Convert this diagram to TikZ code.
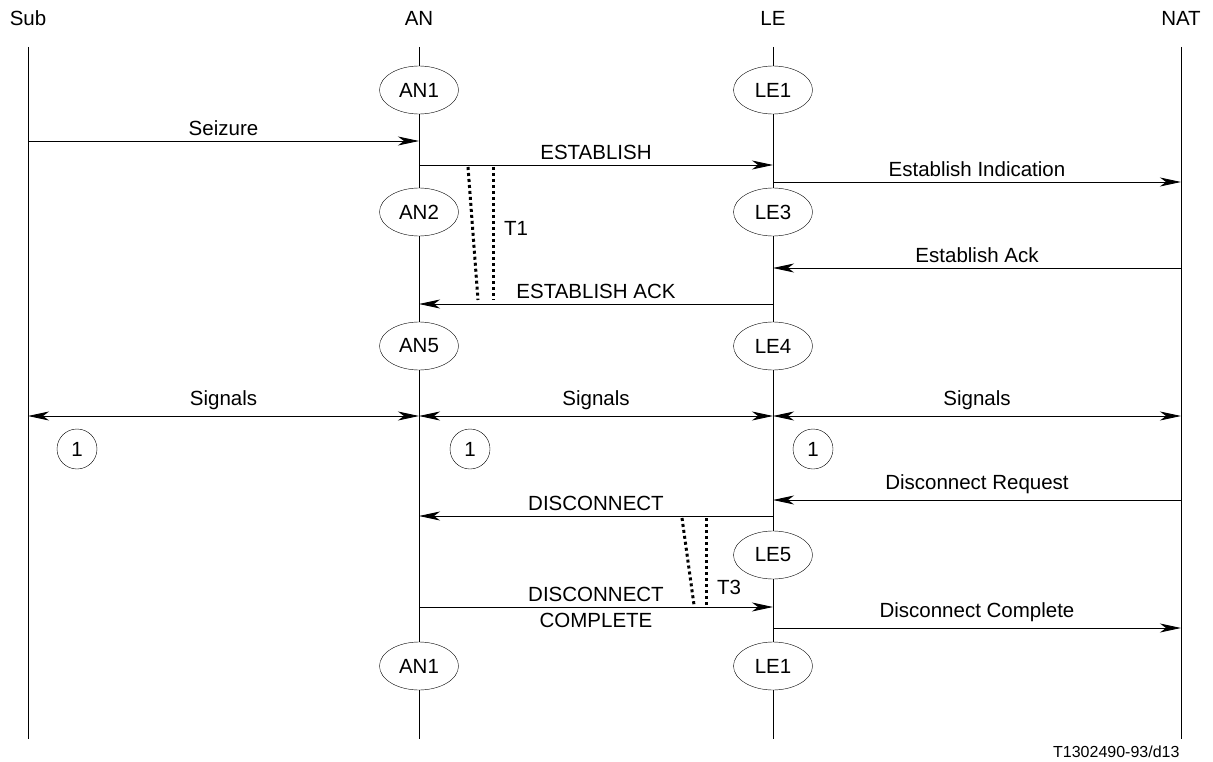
\documentclass[tikz,border=0pt]{standalone}
\usepackage{fontspec}
\setmainfont{Liberation Sans}
\usetikzlibrary{arrows.meta,shapes.geometric}
\begin{document}
\begin{tikzpicture}[x=1pt, y=-1pt,
    every node/.style={font=\fontsize{20.5}{26}\selectfont},
    state/.style={ellipse, draw, fill=white, minimum width=79pt, minimum height=48pt, inner sep=0pt},
    note/.style={circle, draw, fill=white, minimum size=40pt, inner sep=0pt},
    msg/.style={-{Stealth[length=21pt, width=9pt, inset=6pt]}, line width=0.9pt},
    both/.style={{Stealth[length=21pt, width=9pt, inset=6pt]}-{Stealth[length=21pt, width=9pt, inset=6pt]}, line width=0.9pt},
    timer/.style={line width=3pt, dash pattern=on 3pt off 3pt}]
\useasboundingbox (0,0) rectangle (1213,762);

% lifelines
\foreach \n/\x in {Sub/28, AN/419, LE/773, NAT/1181} {
    \node (\n) at (\x,18) {\n};
    \coordinate (\n top) at (\x,47);
    \coordinate (\n bot) at (\x,739);
    \draw[line width=0.9pt] (\n top) -- (\n bot);
    \foreach \r/\y in {seize/141, est/165, estind/182, estack/268, estACK/304, sig/416, discreq/500, disc/516, disccomp/607, disccompl/628}
        \coordinate (\n-\r) at (\x,\y);
}

% states
\node[state] (AN1) at (419,90) {AN1};
\node[state] (LE1) at (773,90) {LE1};
\node[state] (AN2) at (419,212) {AN2};
\node[state] (LE3) at (773,212) {LE3};
\node[state] (AN5) at (419,346) {AN5};
\node[state] (LE4) at (773,346) {LE4};
\node[state] (LE5) at (773,555) {LE5};
\node[state] (AN1b) at (419,666) {AN1};
\node[state] (LE1b) at (773,666) {LE1};

\node[note] (n1) at (77,449) {1};
\node[note] (n2) at (470,449) {1};
\node[note] (n3) at (813,449) {1};

% messages
\draw[msg] (Sub-seize) -- (AN-seize) node[above=2pt, midway] {Seizure};
\draw[msg] (AN-est) -- (LE-est) node[above=2pt, midway] {ESTABLISH};
\draw[msg] (LE-estind) -- (NAT-estind) node[above=2pt, midway] {Establish Indication};
\draw[msg] (NAT-estack) -- (LE-estack) node[above=2pt, midway] {Establish Ack};
\draw[msg] (LE-estACK) -- (AN-estACK) node[above=2pt, midway] {ESTABLISH ACK};
\draw[both] (Sub-sig) -- (AN-sig) node[above=2pt, midway] {Signals};
\draw[both] (AN-sig) -- (LE-sig) node[above=2pt, midway] {Signals};
\draw[both] (LE-sig) -- (NAT-sig) node[above=2pt, midway] {Signals};
\draw[msg] (NAT-discreq) -- (LE-discreq) node[above=2pt, midway] {Disconnect Request};
\draw[msg] (LE-disc) -- (AN-disc) node[above=2pt, midway] {DISCONNECT};
\draw[msg] (AN-disccomp) -- (LE-disccomp) node[align=center, midway] {DISCONNECT\\COMPLETE};
\draw[msg] (LE-disccompl) -- (NAT-disccompl) node[above=2pt, midway] {Disconnect Complete};

% timers
\coordinate (t1a) at (468,167);
\coordinate (t1b) at (478,300);
\coordinate (t1c) at (493,167);
\coordinate (t1d) at (493,300);
\draw[timer] (t1a) -- (t1b);
\draw[timer] (t1c) -- (t1d);
\node (T1) at (516,228) {T1};
\coordinate (t3a) at (682,518);
\coordinate (t3b) at (694,605);
\coordinate (t3c) at (706,518);
\coordinate (t3d) at (706,605);
\draw[timer] (t3a) -- (t3b);
\draw[timer] (t3c) -- (t3d);
\node (T3) at (729,587) {T3};

\node[anchor=east, font=\fontsize{16}{19}\selectfont] (fig) at (1183,752) {T1302490-93/d13};
\end{tikzpicture}
\end{document}
